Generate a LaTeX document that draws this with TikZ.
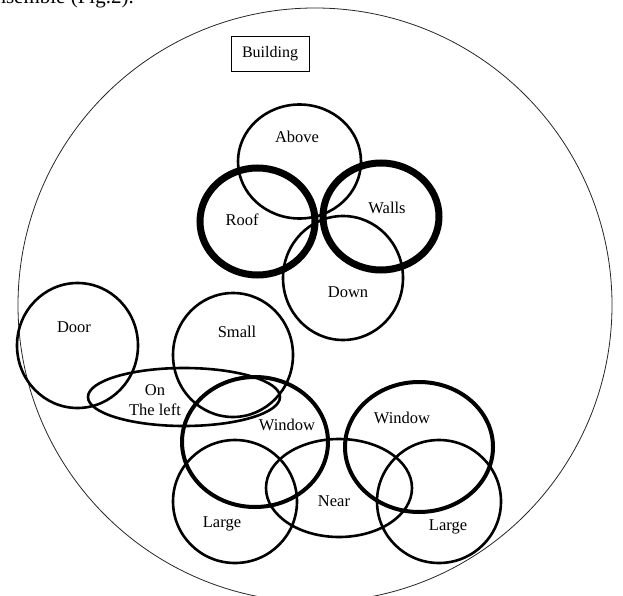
\documentclass[tikz,border=0pt]{standalone}
\usepackage{fontspec}
\setmainfont{Liberation Serif}
\usetikzlibrary{shapes.geometric}

\begin{document}
\begin{tikzpicture}[
    x=1pt, y=-1pt,
    ring/.style={ellipse,draw=black,inner sep=0,line width=2.6pt},
    heavy/.style={ring,line width=7pt},
    bold/.style={ring,line width=4pt},
    rad/.style 2 args={minimum width=2*#1,minimum height=2*#2},
    word/.style={inner sep=0,text=black},
    box/.style={rectangle,draw=black,line width=0.8pt,inner sep=0,
                minimum width=78pt,minimum height=35pt}
]

    \tikzstyle{every node}=[font=\fontsize{16.5}{20}\selectfont];

    \useasboundingbox (0,0) rectangle (623,596);
    \clip (0,0) rectangle (623,596);

    % page text cut off above the figure
    \node[word,anchor=base east,font=\fontsize{21}{24}\selectfont]
        (caption) at (134,4) {ensemble (Fig.2).};

    % whole set
    \draw[draw=black!85,line width=0.8pt] (315,305) circle (297);
    \node[box,font=\fontsize{16}{20}\selectfont] (building) at (270,53.5) {Building};

    % upper group
    \node[ring,rad={61.5}{57}] (above) at (299.5,161.5) {};
    \node[heavy,rad={57.5}{53.5}] (roof) at (257.5,221.5) {};
    \node[heavy,rad={58}{53.5}] (walls) at (381,216.5) {};
    \node[ring,rad={60}{62}] (down) at (343,278) {};

    \node[word] (above-t) at (297,137) {Above};
    \node[word] (roof-t) at (242,220) {Roof};
    \node[word] (walls-t) at (387,208) {Walls};
    \node[word] (down-t) at (348,292) {Down};

    % lower group
    \node[ring,rad={60.5}{62.5}] (door) at (77.5,345.5) {};
    \node[ring,rad={60}{62}] (small) at (233,355) {};
    \node[ring,rad={96}{29}] (onleft) at (184,397) {};
    \node[bold,rad={73}{65}] (window1) at (255,442) {};
    \node[bold,rad={74}{65}] (window2) at (419,447) {};
    \node[ring,rad={62}{61.5}] (large1) at (235,501.5) {};
    \node[ring,rad={73}{49}] (near) at (339,488) {};
    \node[ring,rad={62}{61.5}] (large2) at (439,501.5) {};

    \node[word] (door-t) at (74,327) {Door};
    \node[word] (small-t) at (237,332) {Small};
    \node[word,align=center] (onleft-t) at (155,400) {On\\The left};
    \node[word] (window1-t) at (287,425) {Window};
    \node[word] (window2-t) at (402,418) {Window};
    \node[word] (large1-t) at (222,524) {Large};
    \node[word] (near-t) at (334,501) {Near};
    \node[word] (large2-t) at (448,527) {Large};

\end{tikzpicture}
\end{document}
